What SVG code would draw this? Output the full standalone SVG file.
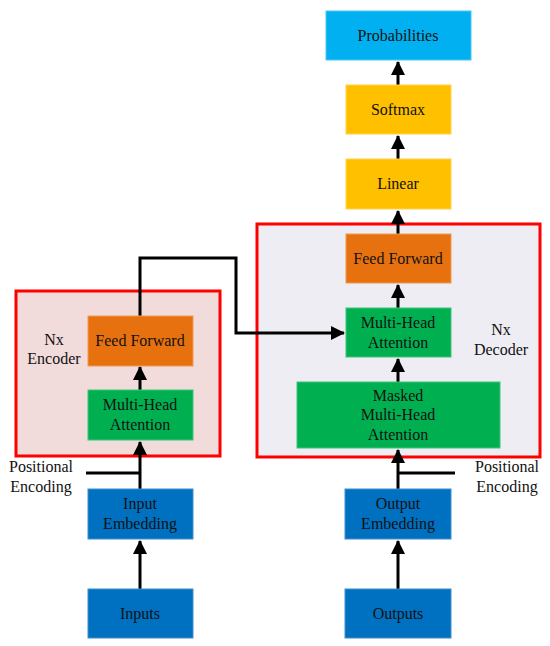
<svg xmlns="http://www.w3.org/2000/svg" width="550" height="646" viewBox="0 0 550 646">
<defs>
<style>
.t{font-family:"Liberation Serif","Times New Roman",serif;font-size:16px;fill:#111;text-anchor:middle}
.box{stroke-width:1}
.blue{fill:#0070C0;stroke:#3f8fcf}
.green{fill:#00B050;stroke:#3fc47a}
.orange{fill:#E8710F;stroke:#ee9a50}
.gold{fill:#FFC000;stroke:#ffd24c}
.sky{fill:#00B0F0;stroke:#4cc8f4}
.frame{stroke:#FF0000;stroke-width:3}
.c{fill:none;stroke:#000;stroke-width:3}
</style>
<marker id="ah" markerUnits="userSpaceOnUse" markerWidth="14" markerHeight="14" viewBox="0 0 14 14" refX="13" refY="7" orient="auto">
<path d="M0,0 L14,7 L0,14 z" fill="#000"/>
</marker>
</defs>
<g id="encoder-frame"><rect class="frame" x="16" y="291" width="204" height="165" fill="#F2DCDB"/></g>
<g id="decoder-frame"><rect class="frame" x="257" y="224" width="283" height="233" fill="#EEEDF3"/></g>
<g id="connectors">
<path class="c" d="M140,589 L140,541" marker-end="url(#ah)"/>
<path class="c" d="M140,489 L140,442" marker-end="url(#ah)"/>
<path class="c" d="M86,473 L140,473"/>
<path class="c" d="M140,390 L140,367" marker-end="url(#ah)"/>
<path class="c" d="M140,316 L140,258 L236,258 L236,333 L344,333" marker-end="url(#ah)"/>
<path class="c" d="M398,589 L398,541" marker-end="url(#ah)"/>
<path class="c" d="M398,489 L398,450" marker-end="url(#ah)"/>
<path class="c" d="M398,473 L455,473"/>
<path class="c" d="M398,382 L398,359" marker-end="url(#ah)"/>
<path class="c" d="M398,308 L398,285" marker-end="url(#ah)"/>
<path class="c" d="M398,234 L398,211" marker-end="url(#ah)"/>
<path class="c" d="M398,159 L398,136" marker-end="url(#ah)"/>
<path class="c" d="M398,85 L398,62" marker-end="url(#ah)"/>
</g>
<g id="inputs"><rect class="box blue" x="88" y="589" width="105" height="49"/><text class="t" x="140" y="619">Inputs</text></g>
<g id="input-embedding"><rect class="box blue" x="88" y="489" width="105" height="50"/><text class="t" x="140" y="509">Input</text><text class="t" x="140" y="529">Embedding</text></g>
<g id="enc-pos"><text class="t" x="41" y="472">Positional</text><text class="t" x="41" y="492">Encoding</text></g>
<g id="enc-mha"><rect class="box green" x="88" y="390" width="105" height="50"/><text class="t" x="140" y="410">Multi-Head</text><text class="t" x="140" y="430">Attention</text></g>
<g id="enc-ff"><rect class="box orange" x="88" y="316" width="105" height="50"/><text class="t" x="140" y="346">Feed Forward</text></g>
<g id="enc-label"><text class="t" x="54" y="345">Nx</text><text class="t" x="54" y="364">Encoder</text></g>
<g id="outputs"><rect class="box blue" x="345" y="589" width="106" height="49"/><text class="t" x="398" y="619">Outputs</text></g>
<g id="output-embedding"><rect class="box blue" x="345" y="489" width="106" height="50"/><text class="t" x="398" y="509">Output</text><text class="t" x="398" y="529">Embedding</text></g>
<g id="dec-pos"><text class="t" x="507" y="472">Positional</text><text class="t" x="507" y="492">Encoding</text></g>
<g id="dec-masked"><rect class="box green" x="297" y="382" width="203" height="66"/><text class="t" x="398" y="401">Masked</text><text class="t" x="398" y="420">Multi-Head</text><text class="t" x="398" y="440">Attention</text></g>
<g id="dec-mha"><rect class="box green" x="346" y="308" width="105" height="49"/><text class="t" x="398" y="328">Multi-Head</text><text class="t" x="398" y="348">Attention</text></g>
<g id="dec-ff"><rect class="box orange" x="346" y="234" width="105" height="49"/><text class="t" x="398" y="264">Feed Forward</text></g>
<g id="dec-label"><text class="t" x="501" y="335">Nx</text><text class="t" x="501" y="355">Decoder</text></g>
<g id="linear"><rect class="box gold" x="346" y="159" width="105" height="50"/><text class="t" x="398" y="189">Linear</text></g>
<g id="softmax"><rect class="box gold" x="346" y="85" width="105" height="49"/><text class="t" x="398" y="115">Softmax</text></g>
<g id="probabilities"><rect class="box sky" x="326" y="11" width="145" height="49"/><text class="t" x="398" y="41">Probabilities</text></g>
</svg>
